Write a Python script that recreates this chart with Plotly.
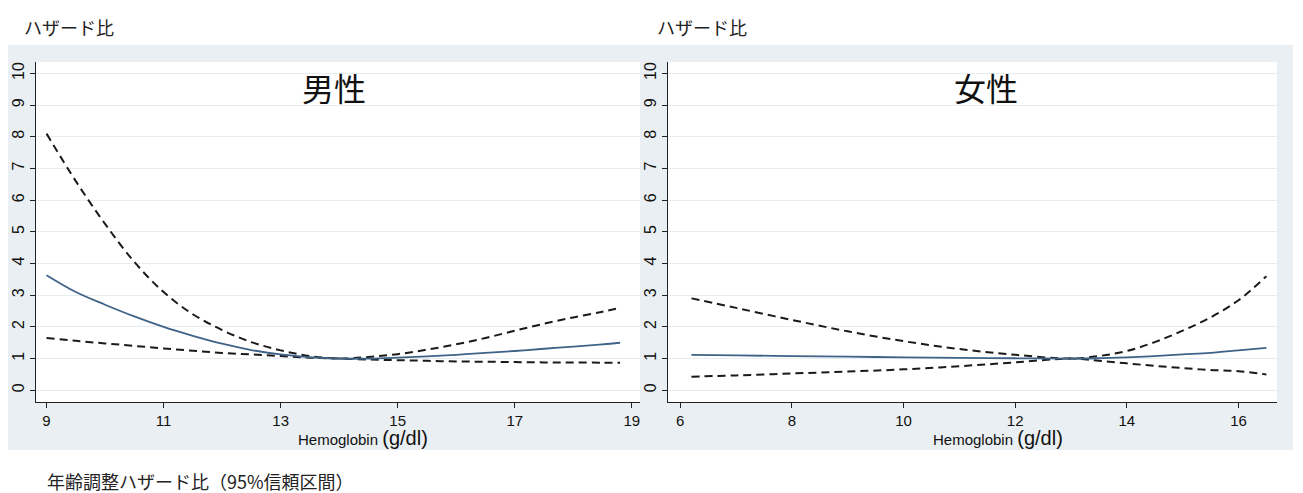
import plotly.graph_objects as go

W, H = 1303, 493

# ---------------- data ----------------
men_x = [9, 9.5, 10, 10.5, 11, 11.5, 12, 12.5, 13, 13.5, 14, 14.5, 15, 15.5, 16, 16.5, 17, 17.5, 18, 18.5, 18.8]
men_hr = [3.63, 3.1, 2.7, 2.33, 2.0, 1.72, 1.47, 1.27, 1.13, 1.04, 1.0, 1.0, 1.03, 1.07, 1.12, 1.18, 1.24, 1.31, 1.38, 1.45, 1.5]
men_upper = [8.1, 6.6, 5.25, 4.05, 3.1, 2.4, 1.9, 1.52, 1.26, 1.08, 1.0, 1.05, 1.14, 1.28, 1.45, 1.65, 1.88, 2.1, 2.3, 2.48, 2.6]
men_lower = [1.65, 1.56, 1.48, 1.4, 1.32, 1.25, 1.18, 1.13, 1.08, 1.03, 1.0, 0.97, 0.95, 0.93, 0.91, 0.9, 0.89, 0.88, 0.88, 0.87, 0.87]

women_x = [6.2, 7, 8, 9, 10, 11, 12, 13, 13.5, 14, 14.5, 15, 15.5, 16, 16.5]
women_hr = [1.12, 1.1, 1.08, 1.06, 1.04, 1.02, 1.01, 1.0, 1.01, 1.04, 1.08, 1.13, 1.18, 1.26, 1.34]
women_upper = [2.9, 2.6, 2.22, 1.86, 1.55, 1.3, 1.12, 1.0, 1.08, 1.24, 1.52, 1.88, 2.3, 2.84, 3.6]
women_lower = [0.43, 0.47, 0.53, 0.59, 0.66, 0.76, 0.88, 1.0, 0.93, 0.85, 0.77, 0.7, 0.64, 0.6, 0.5]

men_xticks = [9, 11, 13, 15, 17, 19]
women_xticks = [6, 8, 10, 12, 14, 16]
y_ticks = list(range(0, 11))

panel_titles = ["男性", "女性"]
y_title = "ハザード比"
x_title_main = "Hemoglobin"
x_title_unit = "(g/dl)"
footer = "年齢調整ハザード比（95%信頼区間）"

# ---------------- helpers ----------------
def px(x):
    return x / W

def py(y):
    return 1 - y / H

LAT = "Liberation Sans, Arial, sans-serif"
CJK = "Noto Sans CJK JP, sans-serif"
SOLID = "#3F6387"
DASH = "#1a1a1a"
GRID = "#E6EDF1"
BAND = "#E9EFF2"

fig = go.Figure()

def add_panel(xs, hr, up, lo, xa, ya):
    fig.add_trace(go.Scatter(x=xs, y=up, mode="lines", xaxis=xa, yaxis=ya,
                             line=dict(color=DASH, width=2, dash="8px,5px", shape="spline"),
                             showlegend=False, hoverinfo="skip"))
    fig.add_trace(go.Scatter(x=xs, y=lo, mode="lines", xaxis=xa, yaxis=ya,
                             line=dict(color=DASH, width=2, dash="8px,5px", shape="spline"),
                             showlegend=False, hoverinfo="skip"))
    fig.add_trace(go.Scatter(x=xs, y=hr, mode="lines", xaxis=xa, yaxis=ya,
                             line=dict(color=SOLID, width=1.8, shape="spline"),
                             showlegend=False, hoverinfo="skip"))

add_panel(men_x, men_hr, men_upper, men_lower, "x", "y")
add_panel(women_x, women_hr, women_upper, women_lower, "x2", "y2")

L1, R1 = 36, 640
L2, R2 = 668, 1277
TOP, BOT = 62, 402

axis_common = dict(showline=True, linecolor="#222", linewidth=1, ticks="outside",
                   ticklen=5, tickcolor="#222", tickfont=dict(family=LAT, size=15, color="#111"),
                   showgrid=False, zeroline=False)
yaxis_common = dict(axis_common, range=[-0.37, 10.36], tickvals=y_ticks, tickangle=-90,
                    showgrid=True, gridcolor=GRID, gridwidth=1)
yaxis_common["tickfont"] = dict(family=LAT, size=16, color="#111")

fig.update_layout(
    width=W, height=H,
    margin=dict(l=0, r=0, t=0, b=0),
    paper_bgcolor="white", plot_bgcolor="white",
    xaxis=dict(axis_common, domain=[px(L1), px(R1)], range=[8.82, 19.14], tickvals=men_xticks, anchor="y"),
    yaxis=dict(yaxis_common, domain=[py(BOT), py(TOP)], anchor="x"),
    xaxis2=dict(axis_common, domain=[px(L2), px(R2)], range=[5.78, 16.69], tickvals=women_xticks, anchor="y2"),
    yaxis2=dict(yaxis_common, domain=[py(BOT), py(TOP)], anchor="x2"),
)

shapes = [
    dict(type="rect", xref="paper", yref="paper", x0=px(8), x1=px(1293), y0=py(450), y1=py(45),
         fillcolor=BAND, line=dict(width=0), layer="below"),
    dict(type="rect", xref="paper", yref="paper", x0=px(L1), x1=px(R1), y0=py(BOT), y1=py(TOP),
         fillcolor="white", line=dict(width=0), layer="below"),
    dict(type="rect", xref="paper", yref="paper", x0=px(L2), x1=px(R2), y0=py(BOT), y1=py(TOP),
         fillcolor="white", line=dict(width=0), layer="below"),
]
fig.update_layout(shapes=shapes)

ann = []
# y titles
for xleft in (22, 655):
    ann.append(dict(x=px(xleft), y=py(27), xref="paper", yref="paper", text=y_title,
                    showarrow=False, xanchor="left", yanchor="middle",
                    font=dict(family=CJK, size=18, color="#222")))
# panel titles
for xc, t in zip((334, 986), panel_titles):
    ann.append(dict(x=px(xc), y=py(87), xref="paper", yref="paper", text=t,
                    showarrow=False, xanchor="center", yanchor="middle",
                    font=dict(family=CJK, size=32, color="#111")))
# x titles
xt = f"{x_title_main} <span style='font-size:20px'>{x_title_unit}</span>"
for xc in (363, 998):
    ann.append(dict(x=px(xc), y=py(438), xref="paper", yref="paper", text=xt,
                    showarrow=False, xanchor="center", yanchor="middle",
                    font=dict(family=LAT, size=15, color="#111")))
# footer
ann.append(dict(x=px(45), y=py(481), xref="paper", yref="paper", text=footer,
                showarrow=False, xanchor="left", yanchor="middle",
                font=dict(family=CJK, size=18, color="#222")))
fig.update_layout(annotations=ann)

fig.write_html("out.html")
